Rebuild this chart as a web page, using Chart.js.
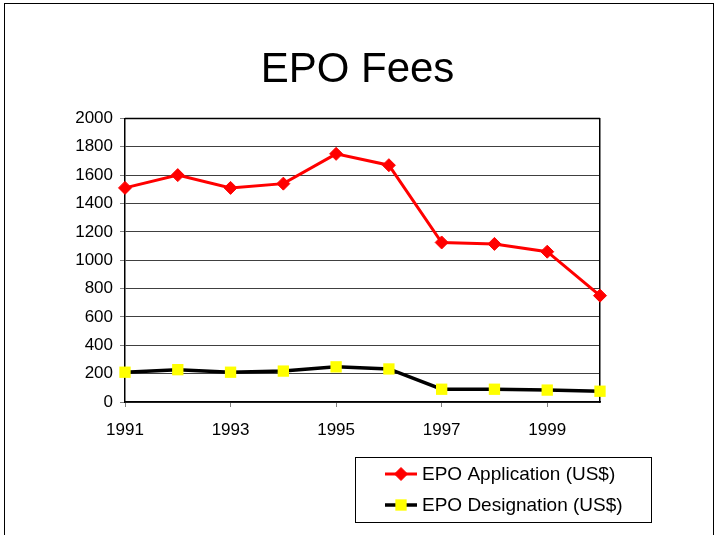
<!DOCTYPE html>
<html>
<head>
<meta charset="utf-8">
<title>EPO Fees</title>
<script src="https://cdn.jsdelivr.net/npm/chart.js@4.4.1/dist/chart.umd.min.js"></script>
<style>
  html, body { margin: 0; padding: 0; background: #fff; overflow: hidden; }
  #wrap { position: relative; width: 715px; height: 535px; }
  #frame { position: absolute; left: 4px; top: 3px; width: 708px; height: 600px; border: 1px solid #000; border-bottom: none; }
  #chart { position: absolute; left: 0; top: 0; }
</style>
</head>
<body>
<div id="wrap">
  <div id="frame"></div>
  <canvas id="chart" width="715" height="535"></canvas>
</div>
<script>
const years = ['1991', '1992', '1993', '1994', '1995', '1996', '1997', '1998', '1999', '2000'];
const application = [1510, 1600, 1510, 1540, 1750, 1670, 1125, 1115, 1060, 750];
const designation = [210, 228, 210, 218, 248, 233, 90, 90, 84, 76];

Chart.defaults.font.family = "'Liberation Sans', Arial, sans-serif";
Chart.defaults.color = '#000';

// top edge of the plot area
const plotFrame = {
  id: 'plotFrame',
  afterDatasetsDraw(chart) {
    const { ctx, chartArea: a } = chart;
    ctx.save();
    ctx.strokeStyle = '#000';
    ctx.lineWidth = 1.5;
    ctx.beginPath();
    ctx.moveTo(a.left, a.top);
    ctx.lineTo(a.right, a.top);
    ctx.stroke();
    ctx.restore();
  }
};

// boxed legend, line sample with the marker in the middle
const boxLegend = {
  id: 'boxLegend',
  afterDraw(chart, args, opts) {
    const ctx = chart.ctx;
    ctx.save();
    ctx.strokeStyle = '#000';
    ctx.lineWidth = 1;
    ctx.strokeRect(opts.left + 0.5, opts.top + 0.5, opts.width, opts.height);
    ctx.font = opts.fontSize + "px 'Liberation Sans', Arial, sans-serif";
    ctx.textBaseline = 'middle';
    chart.data.datasets.forEach((ds, i) => {
      const y = opts.top + opts.firstRow + i * opts.rowHeight;
      const x0 = opts.left + opts.lineStart;
      const x1 = x0 + opts.lineWidth;
      ctx.strokeStyle = ds.borderColor;
      ctx.lineWidth = ds.borderWidth;
      ctx.beginPath();
      ctx.moveTo(x0, y);
      ctx.lineTo(x1, y);
      ctx.stroke();
      ctx.fillStyle = ds.pointBackgroundColor;
      ctx.strokeStyle = ds.pointBorderColor;
      ctx.lineWidth = ds.pointBorderWidth;
      Chart.helpers.drawPoint(ctx, {
        pointStyle: ds.pointStyle,
        radius: ds.pointRadius,
        borderWidth: ds.pointBorderWidth,
        rotation: 0
      }, (x0 + x1) / 2, y);
      ctx.fillStyle = '#000';
      ctx.fillText(ds.label, x1 + 5, y + 1);
    });
    ctx.restore();
  }
};

new Chart(document.getElementById('chart'), {
  type: 'line',
  data: {
    labels: years,
    datasets: [
      {
        label: 'EPO Application (US$)',
        data: application,
        borderColor: '#ff0000',
        borderWidth: 3,
        pointStyle: 'rectRot',
        pointRadius: 6.5,
        pointBackgroundColor: '#ff0000',
        pointBorderColor: '#ff0000',
        pointBorderWidth: 1,
        tension: 0,
        clip: false
      },
      {
        label: 'EPO Designation (US$)',
        data: designation,
        borderColor: '#000000',
        borderWidth: 3.5,
        pointStyle: 'rect',
        pointRadius: 8,
        pointBackgroundColor: '#ffff00',
        pointBorderColor: '#ffff00',
        pointBorderWidth: 0,
        tension: 0,
        clip: false
      }
    ]
  },
  options: {
    responsive: false,
    animation: false,
    devicePixelRatio: 1,
    layout: { padding: 0 },
    plugins: {
      legend: { display: false },
      tooltip: { enabled: false },
      title: {
        display: true,
        text: 'EPO Fees',
        color: '#000',
        font: { size: 42, weight: 'normal' },
        padding: { top: 45, bottom: 23 }
      },
      boxLegend: {
        left: 355, top: 457, width: 296, height: 65,
        firstRow: 17, rowHeight: 31,
        lineStart: 30, lineWidth: 32, fontSize: 19
      }
    },
    scales: {
      x: {
        ticks: {
          color: '#000',
          font: { size: 17 },
          padding: 13,
          autoSkip: false,
          maxRotation: 0,
          callback(v, i) { return i % 2 === 0 ? this.getLabelForValue(v) : ''; }
        },
        grid: {
          drawOnChartArea: false,
          tickLength: 5,
          tickColor: c => c.index % 2 === 0 ? '#808080' : 'rgba(0,0,0,0)'
        },
        border: { color: '#000', width: 1.5 },
        afterFit(scale) { scale.height = 133; }
      },
      y: {
        min: 0,
        max: 2000,
        ticks: {
          stepSize: 200,
          color: '#000',
          font: { size: 17 },
          padding: 7,
          callback: v => String(v)
        },
        grid: { color: '#404040', lineWidth: 1, tickLength: 5, tickColor: '#808080' },
        border: { color: '#000', width: 1.5 },
        afterFit(scale) { scale.width = 125; }
      },
      right: {
        position: 'right',
        min: 0,
        max: 2000,
        ticks: { display: false },
        grid: { drawOnChartArea: false, drawTicks: false },
        border: { color: '#000', width: 1.5 },
        afterFit(scale) { scale.width = 115; }
      }
    }
  },
  plugins: [plotFrame, boxLegend]
});
</script>
</body>
</html>
